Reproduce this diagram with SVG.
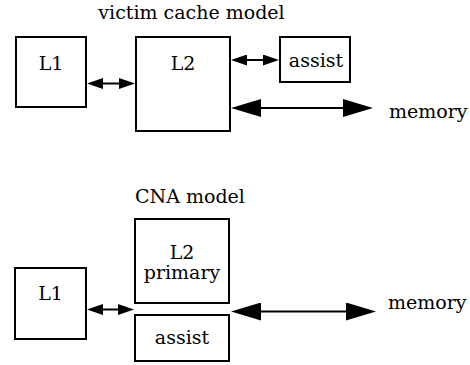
<svg xmlns="http://www.w3.org/2000/svg" width="470" height="365" viewBox="0 0 470 365">
<style>
  .box { fill: #fff; stroke: #000; stroke-width: 2; }
  .lbl { font-family: "DejaVu Serif", serif; font-size: 19px; fill: #000; }
  .c { text-anchor: middle; }
  .conn { fill: none; stroke: #000; stroke-width: 2; }
</style>
<defs>
  <marker id="hs" viewBox="0 0 16 11" refX="0" refY="5.5" markerWidth="16" markerHeight="11" markerUnits="userSpaceOnUse" orient="auto-start-reverse">
    <path d="M0,0 L16,5.5 L0,11 z" fill="#000"/>
  </marker>
  <marker id="hl" viewBox="0 0 30 18" refX="0" refY="9" markerWidth="30" markerHeight="18" markerUnits="userSpaceOnUse" orient="auto-start-reverse">
    <path d="M0,0 L30,9 L0,18 z" fill="#000"/>
  </marker>
</defs>
<rect width="470" height="365" fill="#fff"/>

<text class="lbl c" x="191.5" y="18.5">victim cache model</text>
<text class="lbl" x="135" y="203">CNA model</text>

<g id="v_l1">
  <rect class="box" x="16" y="37" width="70" height="70"/>
  <text class="lbl c" x="51" y="69.5">L1</text>
</g>
<g id="v_l2">
  <rect class="box" x="136" y="37" width="94" height="94"/>
  <text class="lbl c" x="183" y="69.5">L2</text>
</g>
<g id="v_assist">
  <rect class="box" x="280" y="37" width="70" height="45"/>
  <text class="lbl c" x="316" y="67">assist</text>
</g>
<g id="v_memory">
  <text class="lbl" x="389" y="118">memory</text>
</g>

<g id="c_l1">
  <rect class="box" x="15" y="268" width="71" height="71"/>
  <text class="lbl c" x="50.5" y="300">L1</text>
</g>
<g id="c_l2">
  <rect class="box" x="135" y="219" width="94" height="84"/>
  <text class="lbl c" x="182" y="258.5">L2</text>
  <text class="lbl c" x="182" y="278.5">primary</text>
</g>
<g id="c_assist">
  <rect class="box" x="135" y="315" width="94" height="46"/>
  <text class="lbl c" x="182" y="344">assist</text>
</g>
<g id="c_memory">
  <text class="lbl" x="388" y="309">memory</text>
</g>

<g id="connectors">
  <path class="conn" d="M103,83.5 H119" marker-start="url(#hs)" marker-end="url(#hs)"/>
  <path class="conn" d="M247,60 H263" marker-start="url(#hs)" marker-end="url(#hs)"/>
  <path class="conn" d="M261,108 H343" marker-start="url(#hl)" marker-end="url(#hl)"/>
  <path class="conn" d="M103,309.5 H118" marker-start="url(#hs)" marker-end="url(#hs)"/>
  <path class="conn" d="M261,311.5 H346" marker-start="url(#hl)" marker-end="url(#hl)"/>
</g>
</svg>
